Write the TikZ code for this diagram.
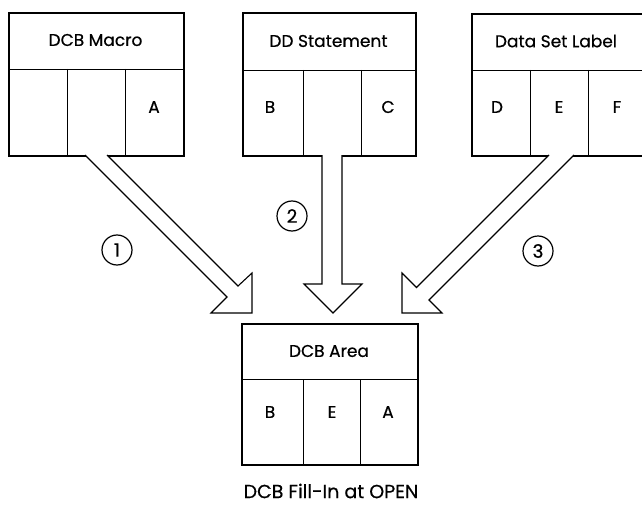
\documentclass[tikz,border=0pt]{standalone}
\usepackage{fontspec}
\setmainfont{Poppins}
\newfontfamily\medfont{Poppins}[FakeBold=0.5]
\begin{document}
\begin{tikzpicture}[x=1pt,y=-1pt,
  outer/.style={draw,line width=1.8pt,inner sep=0pt,anchor=north west},
  divider/.style={line width=0.9pt},
  lbl/.style={font=\medfont\fontsize{17}{19}\selectfont,inner sep=0pt},
  blockarrow/.style={draw,line width=1.1pt,fill=white,line join=miter},
  num/.style={draw,circle,line width=1.2pt,minimum size=30pt,inner sep=0pt,font=\medfont\fontsize{18.5}{20}\selectfont}]
\useasboundingbox (0,0) rectangle (642,508);
\clip (0,0) rectangle (642,508);
% Box 1: DCB Macro
\node[outer,minimum width=175pt,minimum height=143pt] (b1) at (8,12) {};
\draw[divider] (8,69) -- (183,69) (67,69) -- (67,155) (125,69) -- (125,155);
\node[lbl] (b1t) at (95.5,40) {DCB Macro};
\node[lbl] (b1a) at (154,107) {A};
% Box 2: DD Statement
\node[outer,minimum width=173pt,minimum height=143pt] (b2) at (242,12) {};
\draw[divider] (242,70) -- (415,70) (303,70) -- (303,155) (361,70) -- (361,155);
\node[lbl] (b2t) at (328.5,41) {DD Statement};
\node[lbl] (b2b) at (270,107) {B};
\node[lbl] (b2c) at (388,107) {C};
% Box 3: Data Set Label
\node[outer,minimum width=175pt,minimum height=142pt] (b3) at (471,13) {};
\draw[divider] (471,70) -- (646,70) (530,70) -- (530,155) (588,70) -- (588,155);
\node[lbl] (b3t) at (556,41) {Data Set Label};
\node[lbl] (b3d) at (497,107) {D};
\node[lbl] (b3e) at (559,107) {E};
\node[lbl] (b3f) at (617,107) {F};
% Bottom box: DCB Area
\node[outer,minimum width=176pt,minimum height=141pt] (b4) at (241,323) {};
\draw[divider] (241,379) -- (417,379) (303,379) -- (303,464) (360,379) -- (360,464);
\node[lbl] (b4t) at (329,351) {DCB Area};
\node[lbl] (b4b) at (270,412) {B};
\node[lbl] (b4e) at (332,412) {E};
\node[lbl] (b4a) at (388,412) {A};
% Block arrows
\draw[blockarrow] (85,155) -- (227,297) -- (211,313) -- (252,313) -- (252,273) -- (238,286) -- (107,155);
\draw[blockarrow] (322,155) -- (322,284) -- (304,284) -- (333,313) -- (362,284) -- (342,284) -- (342,155);
\draw[blockarrow] (549,155) -- (416.5,287.5) -- (402,273) -- (402,313) -- (442,313) -- (429,300) -- (574,155);
% Numbers
\node[num] (n1) at (117,250) {1};
\node[num] (n2) at (292,216) {2};
\node[num] (n3) at (538,251) {3};
% Caption
\node[lbl,font=\medfont\fontsize{19}{21}\selectfont] (cap) at (331,491) {DCB Fill-In at OPEN};
\end{tikzpicture}
\end{document}
